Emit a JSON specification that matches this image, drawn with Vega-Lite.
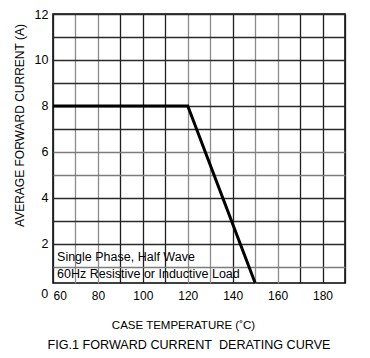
{
  "$schema": "https://vega.github.io/schema/vega-lite/v6.json",
  "width": 292,
  "height": 269,
  "autosize": "none",
  "padding": {"left": 53, "top": 14, "right": 25, "bottom": 75},
  "background": "white",
  "config": {
    "font": "Liberation Sans",
    "view": {"stroke": "black", "strokeWidth": 1.5},
    "axis": {"labelFont": "Liberation Sans", "titleFont": "Liberation Sans", "labelColor": "black", "titleColor": "black", "titleFontWeight": "normal"}
  },
  "title": {
    "text": "FIG.1 FORWARD CURRENT\u00a0 DERATING CURVE",
    "orient": "bottom",
    "anchor": "middle",
    "frame": "group",
    "dx": -10,
    "offset": 8,
    "fontSize": 12.6,
    "fontWeight": "normal",
    "color": "black",
    "font": "Liberation Sans"
  },
  "datasets": {
    "curve": [
      {"temp": 60, "current": 8},
      {"temp": 120, "current": 8},
      {"temp": 150, "current": 0.3}
    ],
    "notes": [
      {"temp": 61.8, "current": 1.42, "text": "Single Phase, Half Wave"},
      {"temp": 61.8, "current": 0.71, "text": "60Hz Resistive or Inductive Load"}
    ],
    "corner": [
      {"temp": 54.8, "current": -0.2, "text": "0"}
    ]
  },
  "encoding": {
    "x": {
      "field": "temp", "type": "quantitative",
      "scale": {"domain": [60, 190], "nice": false, "zero": false},
      "axis": {
        "values": [60, 70, 80, 90, 100, 110, 120, 130, 140, 150, 160, 170, 180, 190],
        "labelExpr": "(datum.value % 20 == 0 && datum.value < 190) ? datum.label : ''",
        "labelOverlap": false,
        "labelFlush": true,
        "labelFontSize": 12,
        "labelPadding": 7,
        "ticks": false,
        "domain": false,
        "grid": true,
        "gridColor": {"condition": {"test": "indexof([70,80,120,130,150,160], datum.value) >= 0", "value": "#8c8c8c"}, "value": "#1e1e1e"},
        "gridWidth": 1.3,
        "gridOpacity": 1,
        "title": "CASE TEMPERATURE (˚C)",
        "titleFontSize": 11.5,
        "titleX": 130,
        "titleY": 45,
        "titleBaseline": "alphabetic",
        "titleAlign": "center"
      }
    },
    "y": {
      "field": "current", "type": "quantitative",
      "scale": {"domain": [0.3, 12], "nice": false, "zero": false},
      "axis": {
        "values": [1, 2, 3, 4, 5, 6, 7, 8, 9, 10, 11, 12],
        "labelExpr": "(datum.value % 2 == 0) ? datum.label : ''",
        "labelOverlap": false,
        "labelFontSize": 12.5,
        "labelPadding": 5,
        "ticks": false,
        "domain": false,
        "grid": true,
        "gridColor": {"condition": {"test": "indexof([1,5,6], datum.value) >= 0", "value": "#7c7c7c"}, "value": "#2a2a2a"},
        "gridWidth": 1.3,
        "gridOpacity": 1,
        "title": "AVERAGE FORWARD CURRENT (A)",
        "titleFontSize": 12,
        "titleY": 111,
        "titlePadding": 8
      }
    }
  },
  "layer": [
    {
      "data": {"name": "curve"},
      "mark": {"type": "line", "color": "black", "strokeWidth": 3}
    },
    {
      "data": {"name": "notes"},
      "mark": {"type": "text", "align": "left", "baseline": "middle", "fontSize": 12.5, "color": "black", "font": "Liberation Sans"},
      "encoding": {
        "text": {"field": "text"}
      }
    },
    {
      "data": {"name": "corner"},
      "mark": {"type": "text", "align": "left", "baseline": "middle", "fontSize": 12.5, "color": "black", "font": "Liberation Sans"},
      "encoding": {
        "text": {"field": "text"}
      }
    }
  ]
}
